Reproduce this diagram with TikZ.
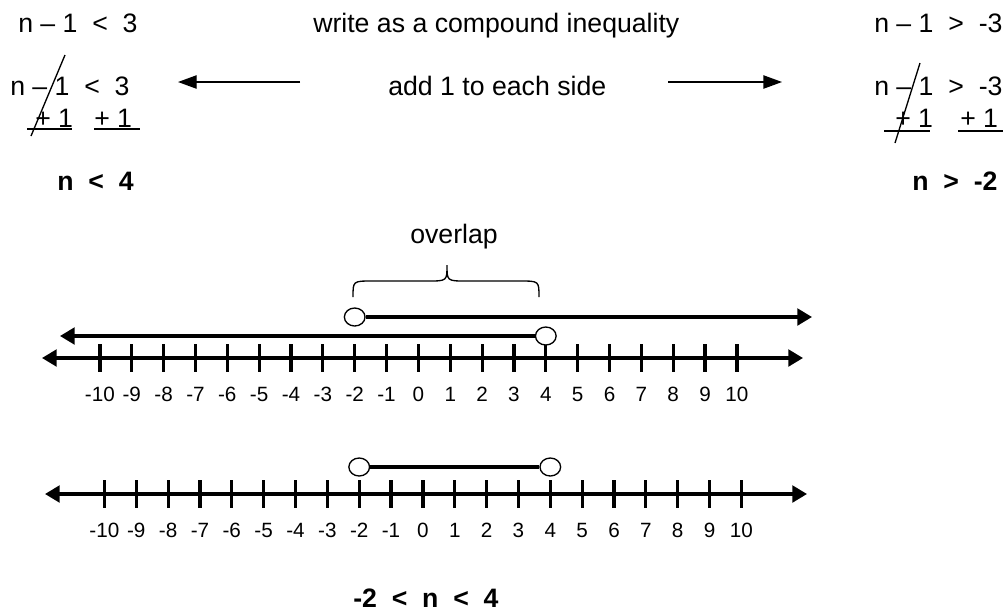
\documentclass[tikz,border=0pt]{standalone}
\usepackage{fontspec}
\setmainfont{Liberation Sans}
\usetikzlibrary{arrows.meta,shapes.geometric}

\begin{document}
\begin{tikzpicture}[x=0.75pt,y=-0.75pt,
  txt/.style={font=\fontsize{20}{24}\selectfont,inner sep=0pt,anchor=base west},
  res/.style={txt,font=\fontsize{20}{24}\selectfont\bfseries},
  lbl/.style={font=\fontsize{15.5}{18}\selectfont,inner sep=0pt,anchor=base},
  fine/.style={line width=1pt},
  hint/.style={fine,-{Triangle[length=14pt,width=10pt]}},
  numline/.style={line width=2.4pt,{Triangle[length=11pt,width=12.5pt]}-{Triangle[length=11pt,width=12.5pt]}},
  ray/.style={line width=2.4pt,-{Triangle[length=11pt,width=12.5pt]}},
  seg/.style={line width=2.4pt},
  notch/.style={line width=2.4pt},
  hole/.style={ellipse,draw,fill=white,line width=1pt,minimum width=15.5pt,minimum height=13.5pt,inner sep=0pt}]
\useasboundingbox (0,0) rectangle (1006,612);

\node[txt](l1) at (18,32){n -- 1~~<~~3};
\node[txt](l2) at (10,95){n -- 1~~<~~3};
\node[txt](l3a) at (35,127){+ 1}; \node[txt](l3b) at (94,127){+ 1};
\node[res](lres) at (57,190){n~~<~~4};

\node[txt](r1) at (874,32){n -- 1~~>~~-3};
\node[txt](r2) at (874,95){n -- 1~~>~~-3};
\node[txt](r3a) at (895,127){+ 1}; \node[txt](r3b) at (960,127){+ 1};
\node[res](rres) at (912,190){n~~>~~-2};

\node[txt](m1) at (313,32){write as a compound inequality};
\node[txt](m2) at (388,95){add 1 to each side};
\coordinate (hl) at (300,82); \coordinate (hlt) at (178,82);
\coordinate (hr) at (668,82); \coordinate (hrt) at (782,82);
\draw[hint](hl)--(hlt); \draw[hint](hr)--(hrt);

\draw[fine](65,55)--(31,136); \draw[fine](27,129)--(72,129); \draw[fine](94,129)--(140,129);
\draw[fine](920,63)--(895,143); \draw[fine](884,131)--(930,131); \draw[fine](958,131)--(1003,131);

\node[txt](ov) at (410,243){overlap};
\draw[fine](353,297) .. controls (353,281) .. (372,281) -- (428,281) .. controls (447,281) .. (447,265)
  .. controls (447,281) .. (466,281) -- (520,281) .. controls (539,281) .. (539,297);

\coordinate (a1l) at (42,358); \coordinate (a1r) at (803,358);
\draw[numline](a1l)--(a1r);
\foreach \i in {-10,...,10}{
  \draw[notch](418.4+31.85*\i,344)--(418.4+31.85*\i,372);
  \node[lbl](la\i) at (418.4+31.85*\i,401){\i};}
\node[hole](c1) at (354.7,317){}; \node[hole](c2) at (545.8,336){};
\coordinate (t1) at (812,317); \coordinate (t2) at (60,336);
\draw[ray](c1.east)--(t1); \draw[ray](c2.west)--(t2);

\coordinate (a2l) at (45,494); \coordinate (a2r) at (807,494);
\draw[numline](a2l)--(a2r);
\foreach \i in {-10,...,10}{
  \draw[notch](422.9+31.85*\i,480)--(422.9+31.85*\i,508);
  \node[lbl](lb\i) at (422.9+31.85*\i,537){\i};}
\node[hole](c3) at (359.2,467){}; \node[hole](c4) at (550.3,467){};
\draw[seg](c3)--(c4);

\node[res](fin) at (353,607){-2~~<~~n~~<~~4};
\end{tikzpicture}
\end{document}
